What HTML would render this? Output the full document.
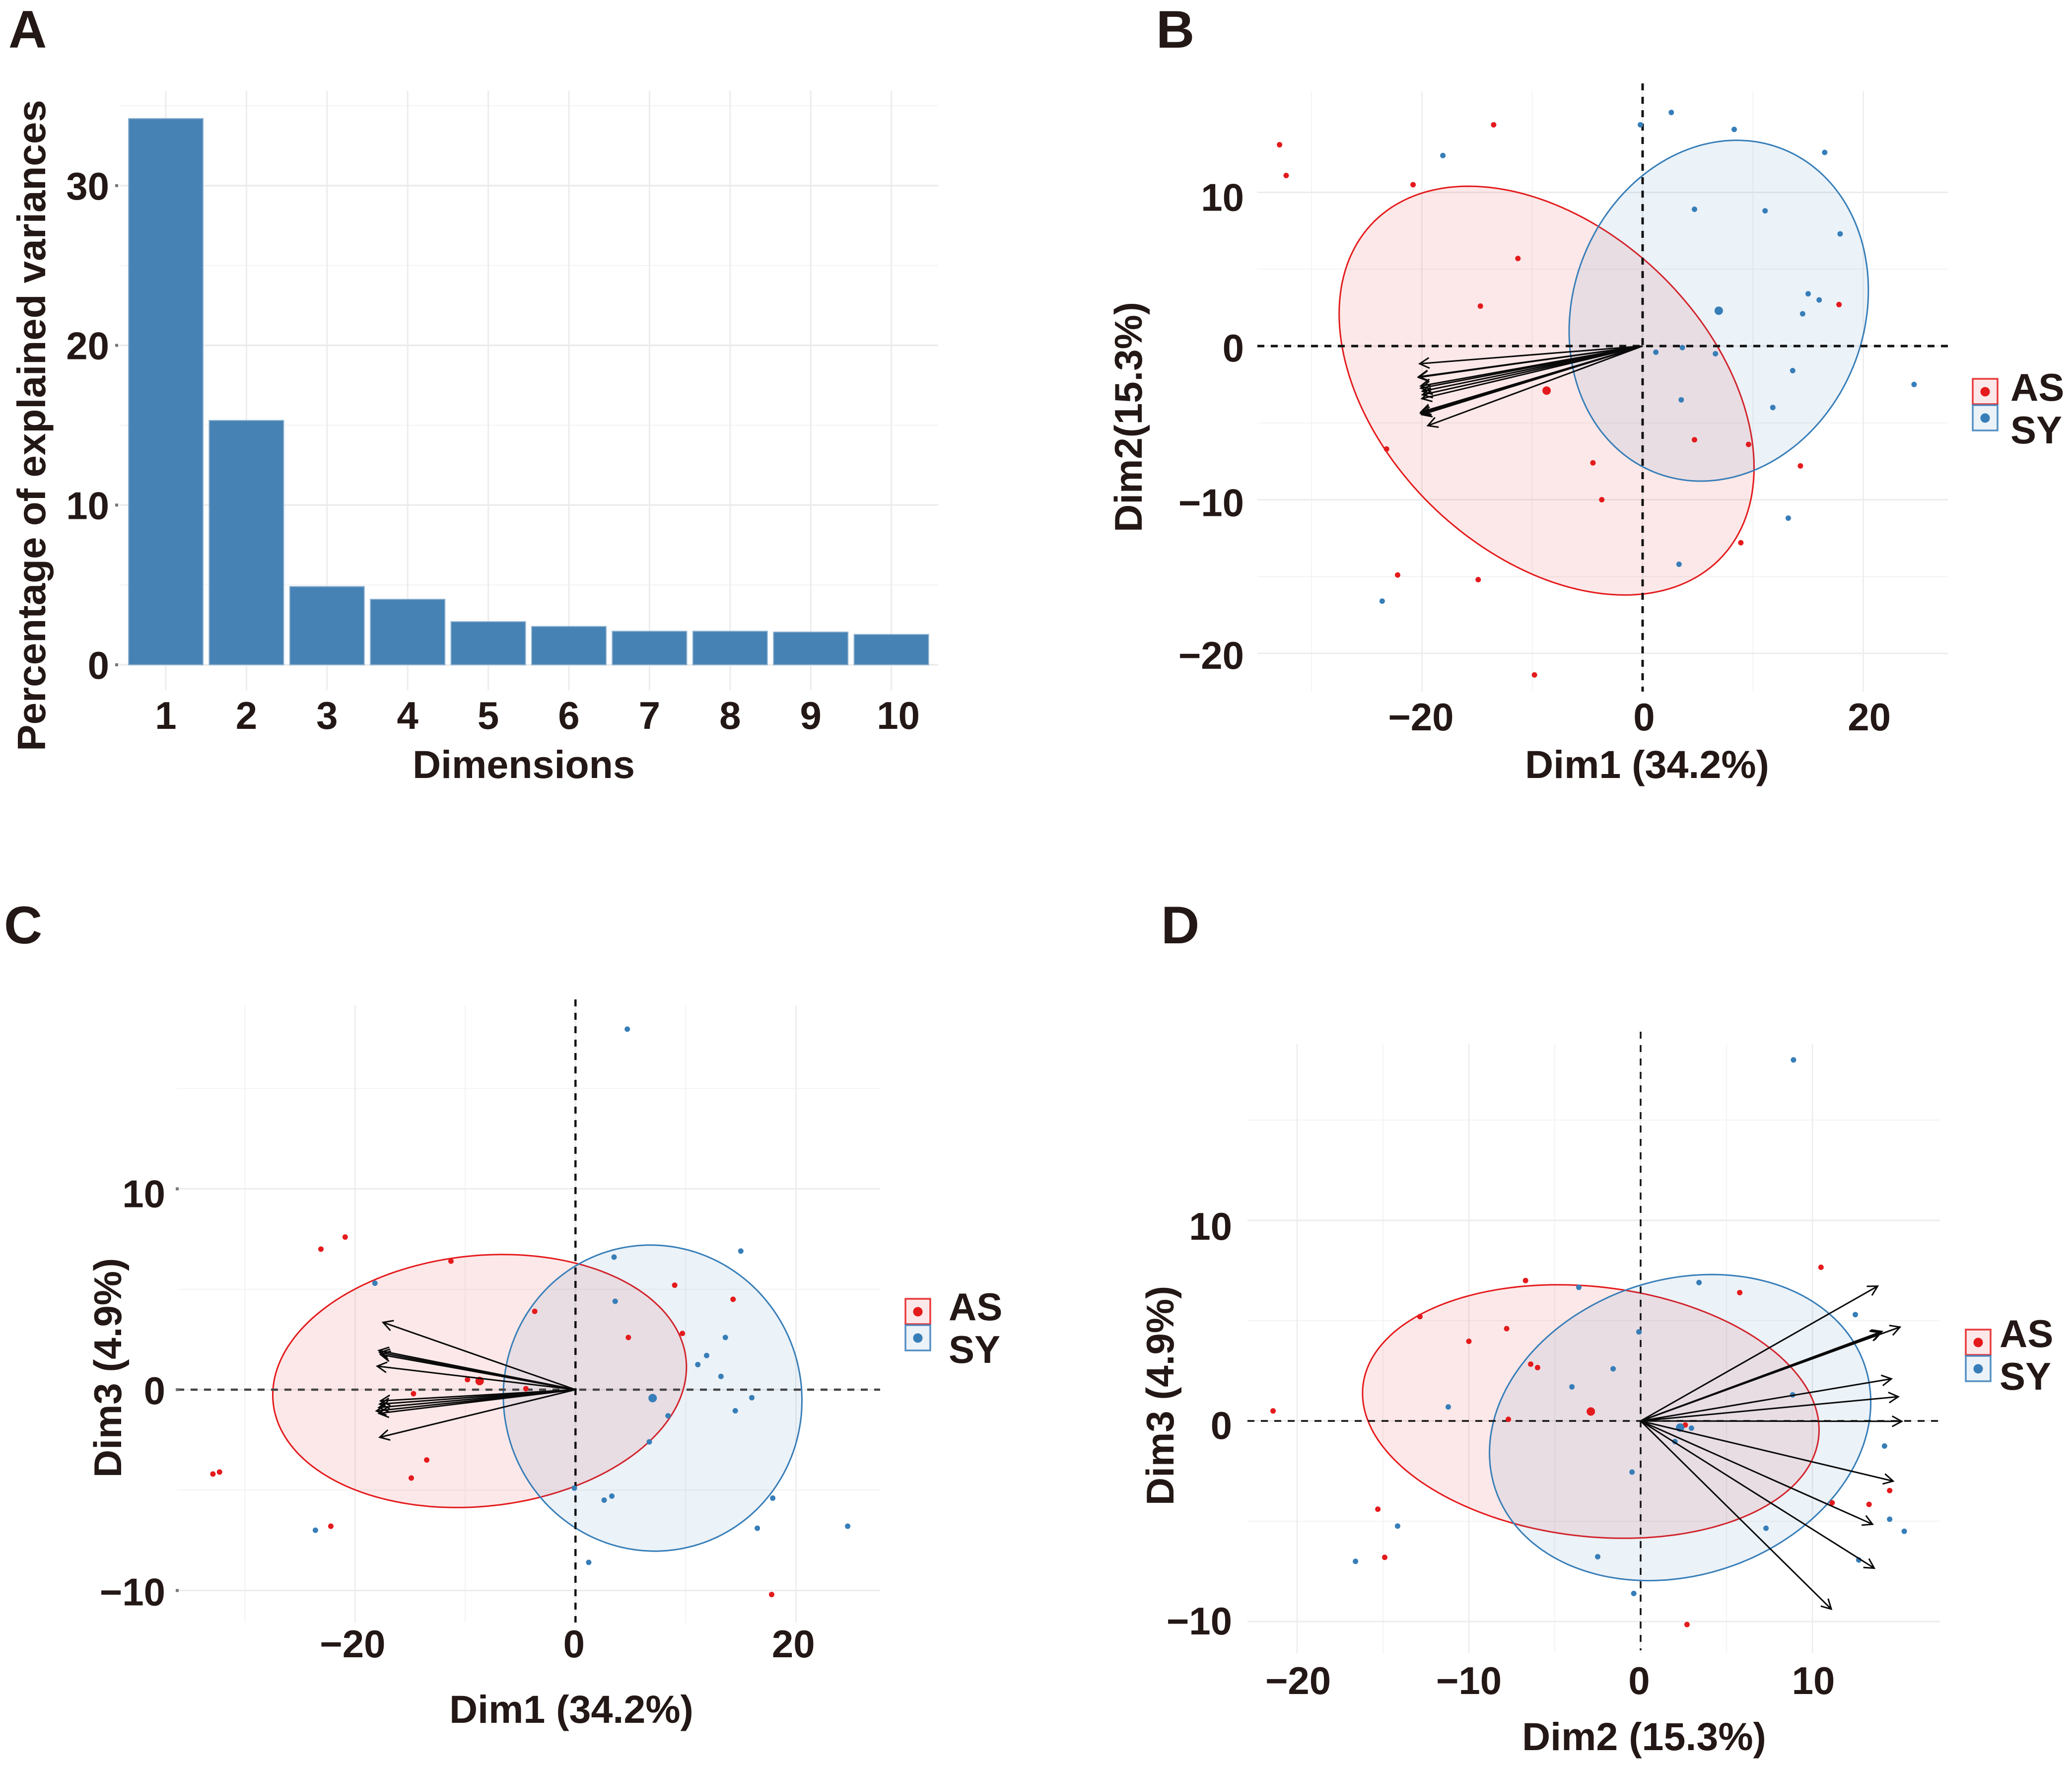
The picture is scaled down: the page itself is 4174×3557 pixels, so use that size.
<!DOCTYPE html>
<html lang="en">
<head>
<meta charset="utf-8">
<title>PCA figure: scree plot and biplots</title>
<style>
html,body{margin:0;padding:0;background:#fff;}
svg{display:block;}
text{font-family:"Liberation Sans",Arial,sans-serif;font-weight:700;fill:#231815;}
</style>
</head>
<body>
<svg id="figure" xmlns="http://www.w3.org/2000/svg" width="4174" height="3557" viewBox="0 0 4174 3557">
<rect x="0" y="0" width="4174" height="3557" fill="#ffffff"/>
</svg>
<script>
// ---------- Panel A data ----------
const screeDims = ['1','2','3','4','5','6','7','8','9','10'];
const screeValues = [34.2,15.3,4.9,4.1,2.7,2.4,2.1,2.1,2.05,1.9];
const screeTicks = [0,10,20,30];
const screeMinorTicks = [5,15,25,35];

// ---------- Panel B data (Dim1, Dim2) ----------
const bAsX = [-32.9,-32.3,-13.5,-20.8,-11.3,-14.7,17.8,-23.2,-4.5,-3.7,4.7,9.6,14.3,8.9,-14.9,-22.2,-9.8];
const bAsY = [13.1,11.1,14.4,10.5,5.7,2.6,2.7,-6.7,-7.6,-10.0,-6.1,-6.4,-7.8,-12.8,-15.2,-14.9,-21.4];
const bSyX = [2.6,-0.2,8.3,-18.1,16.5,4.7,11.1,17.9,15.0,16.0,14.5,1.2,3.6,6.6,13.6,24.6,3.5,11.8,13.2,3.3,-23.6];
const bSyY = [15.2,14.4,14.1,12.4,12.6,8.9,8.8,7.3,3.4,3.0,2.1,-0.4,-0.1,-0.5,-1.6,-2.5,-3.5,-4.0,-11.2,-14.2,-16.6];
const bMeanX = [-8.7,6.9];
const bMeanY = [-2.9,2.3];
const bEllipseRx = [18.8,13.56];
const bEllipseRy = [13.3,11.09];
const bEllipseTilt = [-0.376,0.12];
const bArrowX = [-20.2,-20.3,-20.3,-20.1,-20.1,-19.95,-19.95,-20.0,-20.1,-20.1,-20.0,-19.46];
const bArrowY = [-1.15,-2.04,-2.0,-2.6,-2.74,-2.94,-3.17,-3.42,-4.3,-4.38,-4.46,-5.18];
const bXTicks = [-20,0,20];
const bXMinor = [-30,-10,10];
const bYTicks = [-20,-10,0,10];
const bYMinor = [-15,-5,5];

// ---------- Panel C data (Dim1, Dim3) ----------
const cAsX = [-20.9,-23.1,-11.3,9.0,14.3,-3.7,4.8,9.7,-9.8,-4.5,-14.7,-13.5,-14.9,-32.9,-32.3,-22.2,17.8];
const cAsY = [7.6,7.0,6.4,5.2,4.5,3.9,2.6,2.8,0.5,0.05,-0.2,-3.5,-4.4,-4.2,-4.1,-6.8,-10.2];
const cSyX = [4.7,-18.2,3.5,15.0,3.6,13.6,11.9,11.1,13.2,16.0,14.5,8.4,6.7,-0.1,3.3,2.6,17.9,16.5,-23.6,24.7,1.2];
const cSyY = [17.95,5.3,6.6,6.9,4.4,2.6,1.7,1.25,0.66,-0.4,-1.05,-1.3,-2.6,-4.9,-5.3,-5.5,-5.4,-6.9,-7.0,-6.8,-8.6];
const cMeanX = [-8.7,7.0];
const cMeanY = [0.43,-0.42];
const cEllipseRx = [18.77,13.55];
const cEllipseRy = [6.3,7.62];
const cEllipseTilt = [0.11,-0.015];
const cArrowX = [-17.46,-17.84,-17.76,-17.69,-17.99,-17.69,-17.76,-17.84,-18.06,-17.84,-17.76];
const cArrowY = [3.35,1.95,1.85,1.75,1.17,-0.56,-0.72,-0.89,-1.06,-1.18,-2.37];
const cXTicks = [-20,0,20];
const cXMinor = [-30,-10,10];
const cYTicks = [-10,0,10];
const cYMinor = [-5,5,15];

// ---------- Panel D data (Dim2, Dim3) ----------
const dAsX = [10.5,-6.7,5.77,-12.85,-7.8,-10,-6.4,-6.0,-21.4,-7.7,2.6,14.5,13.3,11.15,-15.3,-14.9,2.7];
const dAsY = [7.66,7.0,6.4,5.2,4.6,3.97,2.83,2.66,0.5,0.08,-0.2,-3.47,-4.16,-4.08,-4.4,-6.8,-10.15];
const dSyX = [8.9,3.4,-3.6,12.5,-0.1,-1.6,-4.0,8.85,-11.2,2.96,2.0,14.2,-0.5,7.3,14.5,15.35,-14.15,-2.5,-16.6,12.7,-0.4];
const dSyY = [18.0,6.9,6.66,5.3,4.44,2.6,1.7,1.3,0.7,-0.36,-1.03,-1.25,-2.55,-5.35,-4.9,-5.5,-5.24,-6.77,-7.0,-6.93,-8.6];
const dMeanX = [-2.9,2.3];
const dMeanY = [0.47,-0.33];
const dEllipseRx = [13.29,11.1];
const dEllipseRy = [6.32,7.63];
const dEllipseTilt = [-0.144,0.165];
const dArrowX = [13.8,14.0,13.95,14.05,15.1,14.6,15.0,15.2,14.7,13.5,13.6,11.1];
const dArrowY = [6.72,4.43,4.40,4.46,4.68,2.1,1.21,-0.02,-3.0,-5.15,-7.34,-9.38];
const dXTicks = [-20,-10,0,10];
const dXMinor = [-15,-5,5];
const dYTicks = [-10,0,10];
const dYMinor = [-5,5,15];

const groupNames = ['AS','SY'];
const groupColors = ['#e41a1c','#377eb8'];

// ---------- Helpers ----------
const NS = 'http://www.w3.org/2000/svg';
const root = document.getElementById('figure');

function make(parent, tag, props) {
  const el = document.createElementNS(NS, tag);
  for (const k in props) el.setAttribute(k, props[k]);
  parent.appendChild(el);
  return el;
}
function group(parent, name) {
  const g = document.createElementNS(NS, 'g');
  
  
  parent.appendChild(g);
  return g;
}
function label(parent, str, x, y, size, anchor, name, rot) {
  const t = make(parent, 'text', {x: x, y: y, 'font-size': size, 'text-anchor': anchor});
  if (rot) t.setAttribute('transform', 'rotate(' + rot + ' ' + x + ' ' + y + ')');
  t.textContent = str;
  
  
  return t;
}
function line(parent, x1, y1, x2, y2, stroke, width, name, dash) {
  const l = make(parent, 'line', {x1: x1, y1: y1, x2: x2, y2: y2, stroke: stroke, 'stroke-width': width});
  if (dash) l.setAttribute('stroke-dasharray', dash);
  
  
  return l;
}
function fmt(v) { return v < 0 ? '\u2212' + Math.abs(v) : String(v); }

// ---------- Panel A ----------
(function () {
  const g = group(root, 'panel-a-scree-plot');
  const x0 = 334, xStep = 162.4, barW = 150, y0 = 1339, yK = 32.17;
  const sx = i => x0 + i * xStep;
  const sy = v => y0 - v * yK;
  label(g, 'A', 17, 96, 107, 'start', 'panel-label-a');
  const grid = group(g, 'scree-grid');
  screeMinorTicks.forEach(v => line(grid, 240, sy(v), 1890, sy(v), '#f3f3f3', 2, 'grid-minor-y'));
  screeTicks.forEach(v => line(grid, 240, sy(v), 1890, sy(v), '#ececec', 3.5, 'grid-major-y'));
  screeDims.forEach((d, i) => line(grid, sx(i), 183, sx(i), 1390, '#ececec', 3, 'grid-major-x'));
  screeValues.forEach((v, i) => {
    const r = make(g, 'rect', {x: sx(i) - barW / 2, y: sy(v), width: barW, height: y0 - sy(v), fill: '#4682b4', stroke: '#8fb2d0', 'stroke-width': 2});
    
    
  });
  screeTicks.forEach(v => {
    const m = make(g, 'rect', {x: 232, y: sy(v) - 3, width: 6, height: 6, fill: '#777777'});
    
    
  });
  screeTicks.forEach(v => label(g, fmt(v), 220, sy(v) + 28, 78, 'end', 'y-tick-label'));
  screeDims.forEach((d, i) => label(g, d, sx(i) + (i === 9 ? 14 : 0), 1468, 78, 'middle', 'x-tick-label'));
  label(g, 'Dimensions', 1055, 1567, 79, 'middle', 'x-axis-title');
  label(g, 'Percentage of explained variances', 91, 857, 80, 'middle', 'y-axis-title', -90);
})();

// ---------- Biplot panels ----------
function biplot(p) {
  const g = group(root, p.name);
  const sx = v => p.x0 + v * p.kx;
  const sy = v => p.y0 - v * p.ky;
  label(g, p.letter, p.letterX, p.letterY, 107, 'start', 'panel-letter');

  const grid = group(g, 'grid');
  p.yMinor.forEach(v => line(grid, p.left, sy(v), p.right, sy(v), '#f3f3f3', 2, 'grid-minor-y'));
  p.xMinor.forEach(v => line(grid, sx(v), p.gridTop, sx(v), p.gridBottom, '#f3f3f3', 2, 'grid-minor-x'));
  p.yTicks.forEach(v => line(grid, p.left, sy(v), p.right, sy(v), '#ececec', 3, 'grid-major-y'));
  p.xTicks.forEach(v => line(grid, sx(v), p.gridTop, sx(v), p.gridBottom, '#ececec', 2.5, 'grid-major-x'));

  // confidence ellipses
  [0, 1].forEach(k => {
    let d = '';
    for (let i = 0; i < 180; i++) {
      const t = i / 180 * 2 * Math.PI;
      const phi = Math.asin(p.tilt[k]);
      const ex = p.meanX[k] + p.rx[k] * Math.cos(t);
      const ey = p.meanY[k] + p.ry[k] * Math.sin(t + phi);
      d += (i ? 'L' : 'M') + sx(ex).toFixed(1) + ' ' + sy(ey).toFixed(1);
    }
    const e = make(g, 'path', {d: d + 'Z', fill: groupColors[k], 'fill-opacity': 0.1, stroke: groupColors[k], 'stroke-width': 3});
    
    
  });

  // reference lines
  line(g, p.left, sy(0), p.right, sy(0), p.hColor, p.dashW, 'zero-line-horizontal', '14 13');
  line(g, sx(0), p.top, sx(0), p.bottom, '#111111', p.dashW, 'zero-line-vertical', '14 13');

  // points
  const pts = group(g, 'points');
  [[p.asX, p.asY, 0], [p.syX, p.syY, 1]].forEach(s => {
    s[0].forEach((v, i) => {
      const c = make(pts, 'circle', {cx: sx(v), cy: sy(s[1][i]), r: 5.5, fill: groupColors[s[2]]});
      
      
    });
    const m = make(pts, 'circle', {cx: sx(p.meanX[s[2]]), cy: sy(p.meanY[s[2]]), r: 8.5, fill: groupColors[s[2]]});
    
    
  });

  // variable arrows
  const arrows = group(g, 'variable-arrows');
  p.arrowX.forEach((v, i) => {
    const x = sx(v), y = sy(p.arrowY[i]), ox = sx(0), oy = sy(0);
    const a = Math.atan2(y - oy, x - ox), h = 22, w = 0.5;
    const d = 'M' + ox + ' ' + oy + 'L' + x + ' ' + y +
      'M' + (x - h * Math.cos(a - w)) + ' ' + (y - h * Math.sin(a - w)) +
      'L' + x + ' ' + y +
      'L' + (x - h * Math.cos(a + w)) + ' ' + (y - h * Math.sin(a + w));
    const ar = make(arrows, 'path', {d: d, fill: 'none', stroke: '#0a0a0a', 'stroke-width': 3});
    
    
  });

  // tick labels and titles
  if (p.tickMarkX) {
    p.yTicks.forEach(v => {
      const m = make(g, 'rect', {x: p.tickMarkX, y: sy(v) - 3, width: 6, height: 6, fill: '#777777'});
      
      
    });
  }
  p.yTicks.forEach(v => label(g, fmt(v), p.yLabelX, sy(v) + p.yLabelDy(v), 78, 'end', 'y-tick-label'));
  p.xTicks.forEach(v => label(g, fmt(v), sx(v) + p.xLabelDx(v), p.xLabelY, 78, 'middle', 'x-tick-label'));
  label(g, p.xTitle, p.xTitleX, p.xTitleY, 79, 'middle', 'x-axis-title');
  label(g, p.yTitle, p.yTitleX, p.yTitleY, 78, 'middle', 'y-axis-title', -90);

  // legend
  const lg = group(g, 'legend');
  [0, 1].forEach(k => {
    const boxY = p.legY + k * p.legStep;
    const b = make(lg, 'rect', {x: p.legX, y: boxY, width: 50, height: p.legStep - 2, fill: groupColors[k], 'fill-opacity': 0.1, stroke: groupColors[k], 'stroke-width': 3.5, 'stroke-opacity': 0.85});
    
    
    const c = make(lg, 'circle', {cx: p.legX + 25, cy: boxY + 26, r: 9.5, fill: groupColors[k]});
    
    
    label(lg, groupNames[k], p.legTextX, p.legBase + k * 86, 78, 'start', 'legend-label-' + groupNames[k]);
  });
}

biplot({
  name: 'panel-b-biplot', letter: 'B', letterX: 2329, letterY: 96,
  x0: 3309, kx: 22.23, y0: 697, ky: 30.95,
  left: 2533, right: 3924, top: 168, bottom: 1393, gridTop: 184, gridBottom: 1393,
  asX: bAsX, asY: bAsY, syX: bSyX, syY: bSyY, meanX: bMeanX, meanY: bMeanY,
  rx: bEllipseRx, ry: bEllipseRy, tilt: bEllipseTilt, arrowX: bArrowX, arrowY: bArrowY,
  xTicks: bXTicks, xMinor: bXMinor, yTicks: bYTicks, yMinor: bYMinor,
  hColor: '#111111', dashW: 5,
  yLabelX: 2506, yLabelDy: v => (v === 10 ? 37 : v === 0 ? 31 : v === -10 ? 33 : 31),
  xLabelY: 1471, xLabelDx: v => (v > 0 ? 12 : v === 0 ? 3 : -2),
  xTitle: 'Dim1 (34.2%)', xTitleX: 3318, xTitleY: 1567,
  yTitle: 'Dim2(15.3%)', yTitleX: 2300, yTitleY: 840,
  legX: 3974, legY: 763, legStep: 53, legTextX: 4050, legBase: 807
});

biplot({
  name: 'panel-c-biplot', letter: 'C', letterX: 8, letterY: 1900,
  x0: 1159.3, kx: 22.2, y0: 2799, ky: 40.45,
  left: 357, right: 1773, top: 2013, bottom: 3268, gridTop: 2025, gridBottom: 3268, tickMarkX: 354,
  asX: cAsX, asY: cAsY, syX: cSyX, syY: cSyY, meanX: cMeanX, meanY: cMeanY,
  rx: cEllipseRx, ry: cEllipseRy, tilt: cEllipseTilt, arrowX: cArrowX, arrowY: cArrowY,
  xTicks: cXTicks, xMinor: cXMinor, yTicks: cYTicks, yMinor: cYMinor,
  hColor: '#444444', dashW: 4.5,
  yLabelX: 333, yLabelDy: v => (v === 10 ? 37 : v === 0 ? 29 : 30),
  xLabelY: 3338, xLabelDx: v => (v === 0 ? -3 : -5),
  xTitle: 'Dim1 (34.2%)', xTitleX: 1151, xTitleY: 3470,
  yTitle: 'Dim3 (4.9%)', yTitleX: 244, yTitleY: 2755,
  legX: 1824, legY: 2616, legStep: 53, legTextX: 1911, legBase: 2659
});

biplot({
  name: 'panel-d-biplot', letter: 'D', letterX: 2339, letterY: 1900,
  x0: 3305, kx: 34.6, y0: 2862, ky: 40.4,
  left: 2513, right: 3908, top: 2078, bottom: 3324, gridTop: 2103, gridBottom: 3330,
  asX: dAsX, asY: dAsY, syX: dSyX, syY: dSyY, meanX: dMeanX, meanY: dMeanY,
  rx: dEllipseRx, ry: dEllipseRy, tilt: dEllipseTilt, arrowX: dArrowX, arrowY: dArrowY,
  xTicks: dXTicks, xMinor: dXMinor, yTicks: dYTicks, yMinor: dYMinor,
  hColor: '#111111', dashW: 3.5,
  yLabelX: 2482, yLabelDy: v => (v === 10 ? 39 : v === 0 ? 36 : 26),
  xLabelY: 3412, xLabelDx: v => (v === 0 ? -3 : v === -10 ? 0 : 2),
  xTitle: 'Dim2 (15.3%)', xTitleX: 3312, xTitleY: 3525,
  yTitle: 'Dim3 (4.9%)', yTitleX: 2364, yTitleY: 2811,
  legX: 3960, legY: 2678, legStep: 53, legTextX: 4028, legBase: 2713
});
</script>
</body>
</html>
